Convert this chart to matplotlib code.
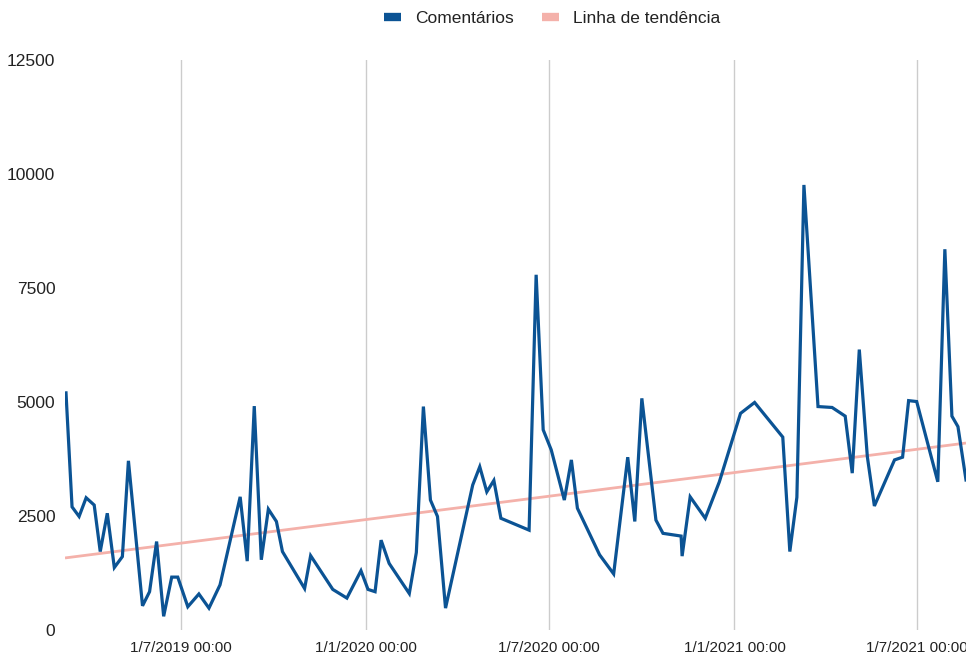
import matplotlib
matplotlib.use("Agg")
import matplotlib.pyplot as plt
import matplotlib.dates as mdates
from matplotlib.lines import Line2D
import pandas as pd

plt.rcParams['font.family'] = ['Liberation Sans', 'DejaVu Sans']

dates = [
    "2019-03-09", "2019-03-15", "2019-03-22", "2019-03-29", "2019-04-06", "2019-04-12",
    "2019-04-19", "2019-04-26", "2019-05-04", "2019-05-10", "2019-05-24", "2019-05-31",
    "2019-06-07", "2019-06-14", "2019-06-22", "2019-06-28", "2019-07-08", "2019-07-19",
    "2019-07-29", "2019-08-09", "2019-08-29", "2019-09-05", "2019-09-12", "2019-09-19",
    "2019-09-26", "2019-10-04", "2019-10-10", "2019-11-01", "2019-11-07", "2019-11-29",
    "2019-12-13", "2019-12-27", "2020-01-03", "2020-01-10", "2020-01-16", "2020-01-24",
    "2020-02-13", "2020-02-20", "2020-02-27", "2020-03-05", "2020-03-12", "2020-03-20",
    "2020-04-16", "2020-04-23", "2020-04-30", "2020-05-07", "2020-05-14", "2020-06-11",
    "2020-06-18", "2020-06-25", "2020-07-03", "2020-07-16", "2020-07-23", "2020-07-29",
    "2020-08-20", "2020-09-03", "2020-09-17", "2020-09-24", "2020-10-01", "2020-10-15",
    "2020-10-22", "2020-11-09", "2020-11-10", "2020-11-18", "2020-12-03", "2020-12-17",
    "2021-01-07", "2021-01-21", "2021-02-18", "2021-02-25", "2021-03-04", "2021-03-11",
    "2021-03-25", "2021-04-08", "2021-04-21", "2021-04-28", "2021-05-05", "2021-05-13",
    "2021-05-20", "2021-06-09", "2021-06-17", "2021-06-23", "2021-07-01", "2021-07-22",
    "2021-07-29", "2021-08-05", "2021-08-11", "2021-08-19",
]
comentarios = [
    5200, 2700, 2490, 2900, 2740, 1720,
    2560, 1370, 1610, 3710, 530, 840,
    1940, 300, 1160, 1160, 510, 790,
    480, 990, 2920, 1510, 4910, 1540,
    2650, 2380, 1720, 910, 1630, 890,
    700, 1300, 890, 840, 1970, 1460,
    800, 1700, 4900, 2850, 2490, 480,
    3180, 3580, 3030, 3280, 2450, 2190,
    7790, 4390, 3950, 2850, 3730, 2670,
    1650, 1230, 3790, 2380, 5080, 2410,
    2120, 2060, 1620, 2920, 2450, 3250,
    4750, 4990, 4230, 1720, 2910, 9760,
    4900, 4880, 4690, 3440, 6150, 3800,
    2720, 3730, 3790, 5030, 5010, 3250,
    8350, 4690, 4460, 3290,
]
trend_dates = ["2019-03-08", "2021-08-19"]
trend_values = [1580, 4100]

series_label = "Comentários"
trend_label = "Linha de tendência"
y_ticks = [0, 2500, 5000, 7500, 10000, 12500]
x_ticks = ["2019-07-01", "2020-01-01", "2020-07-01", "2021-01-01", "2021-07-01"]

x = pd.to_datetime(dates)
xt = pd.to_datetime(trend_dates)

fig = plt.figure(figsize=(9.66, 6.54), dpi=100)
ax = fig.add_axes([65/966, 24/654, (966-65)/966, 570/654])

blue = '#0b5394'
pink = '#f4b1aa'

ax.plot(xt, trend_values, color=pink, lw=2.0, solid_capstyle='butt', zorder=2)
ax.plot(x, comentarios, color=blue, lw=2.3, solid_joinstyle='miter', zorder=3)

ax.set_ylim(0, 12500)
ax.set_xlim(pd.Timestamp("2019-03-08"), pd.Timestamp("2021-08-19"))
ax.set_yticks(y_ticks)
ax.set_yticklabels([str(v) for v in y_ticks], fontsize=12.5, color='#222222')
xtd = pd.to_datetime(x_ticks)
ax.set_xticks(xtd)
ax.set_xticklabels([d.strftime('%-d/%-m/%Y 00:00') for d in xtd], fontsize=11, color='#222222')
ax.tick_params(axis='both', length=0)
ax.tick_params(axis='y', pad=7)
ax.tick_params(axis='x', pad=8)
ax.grid(axis='x', color='#cccccc', lw=1)
ax.grid(axis='y', visible=False)
for s in ax.spines.values():
    s.set_visible(False)

handles = [Line2D([], [], color=blue, lw=6, solid_capstyle='butt'),
           Line2D([], [], color=pink, lw=6, solid_capstyle='butt')]
fig.legend(handles, [series_label, trend_label], loc='center', bbox_to_anchor=(552/966, 1 - 18/654),
           ncol=2, frameon=False, fontsize=12.5, handlelength=1.0, handletextpad=0.8,
           columnspacing=1.6, labelcolor='#222222')

fig.savefig('out.png', dpi=100)
